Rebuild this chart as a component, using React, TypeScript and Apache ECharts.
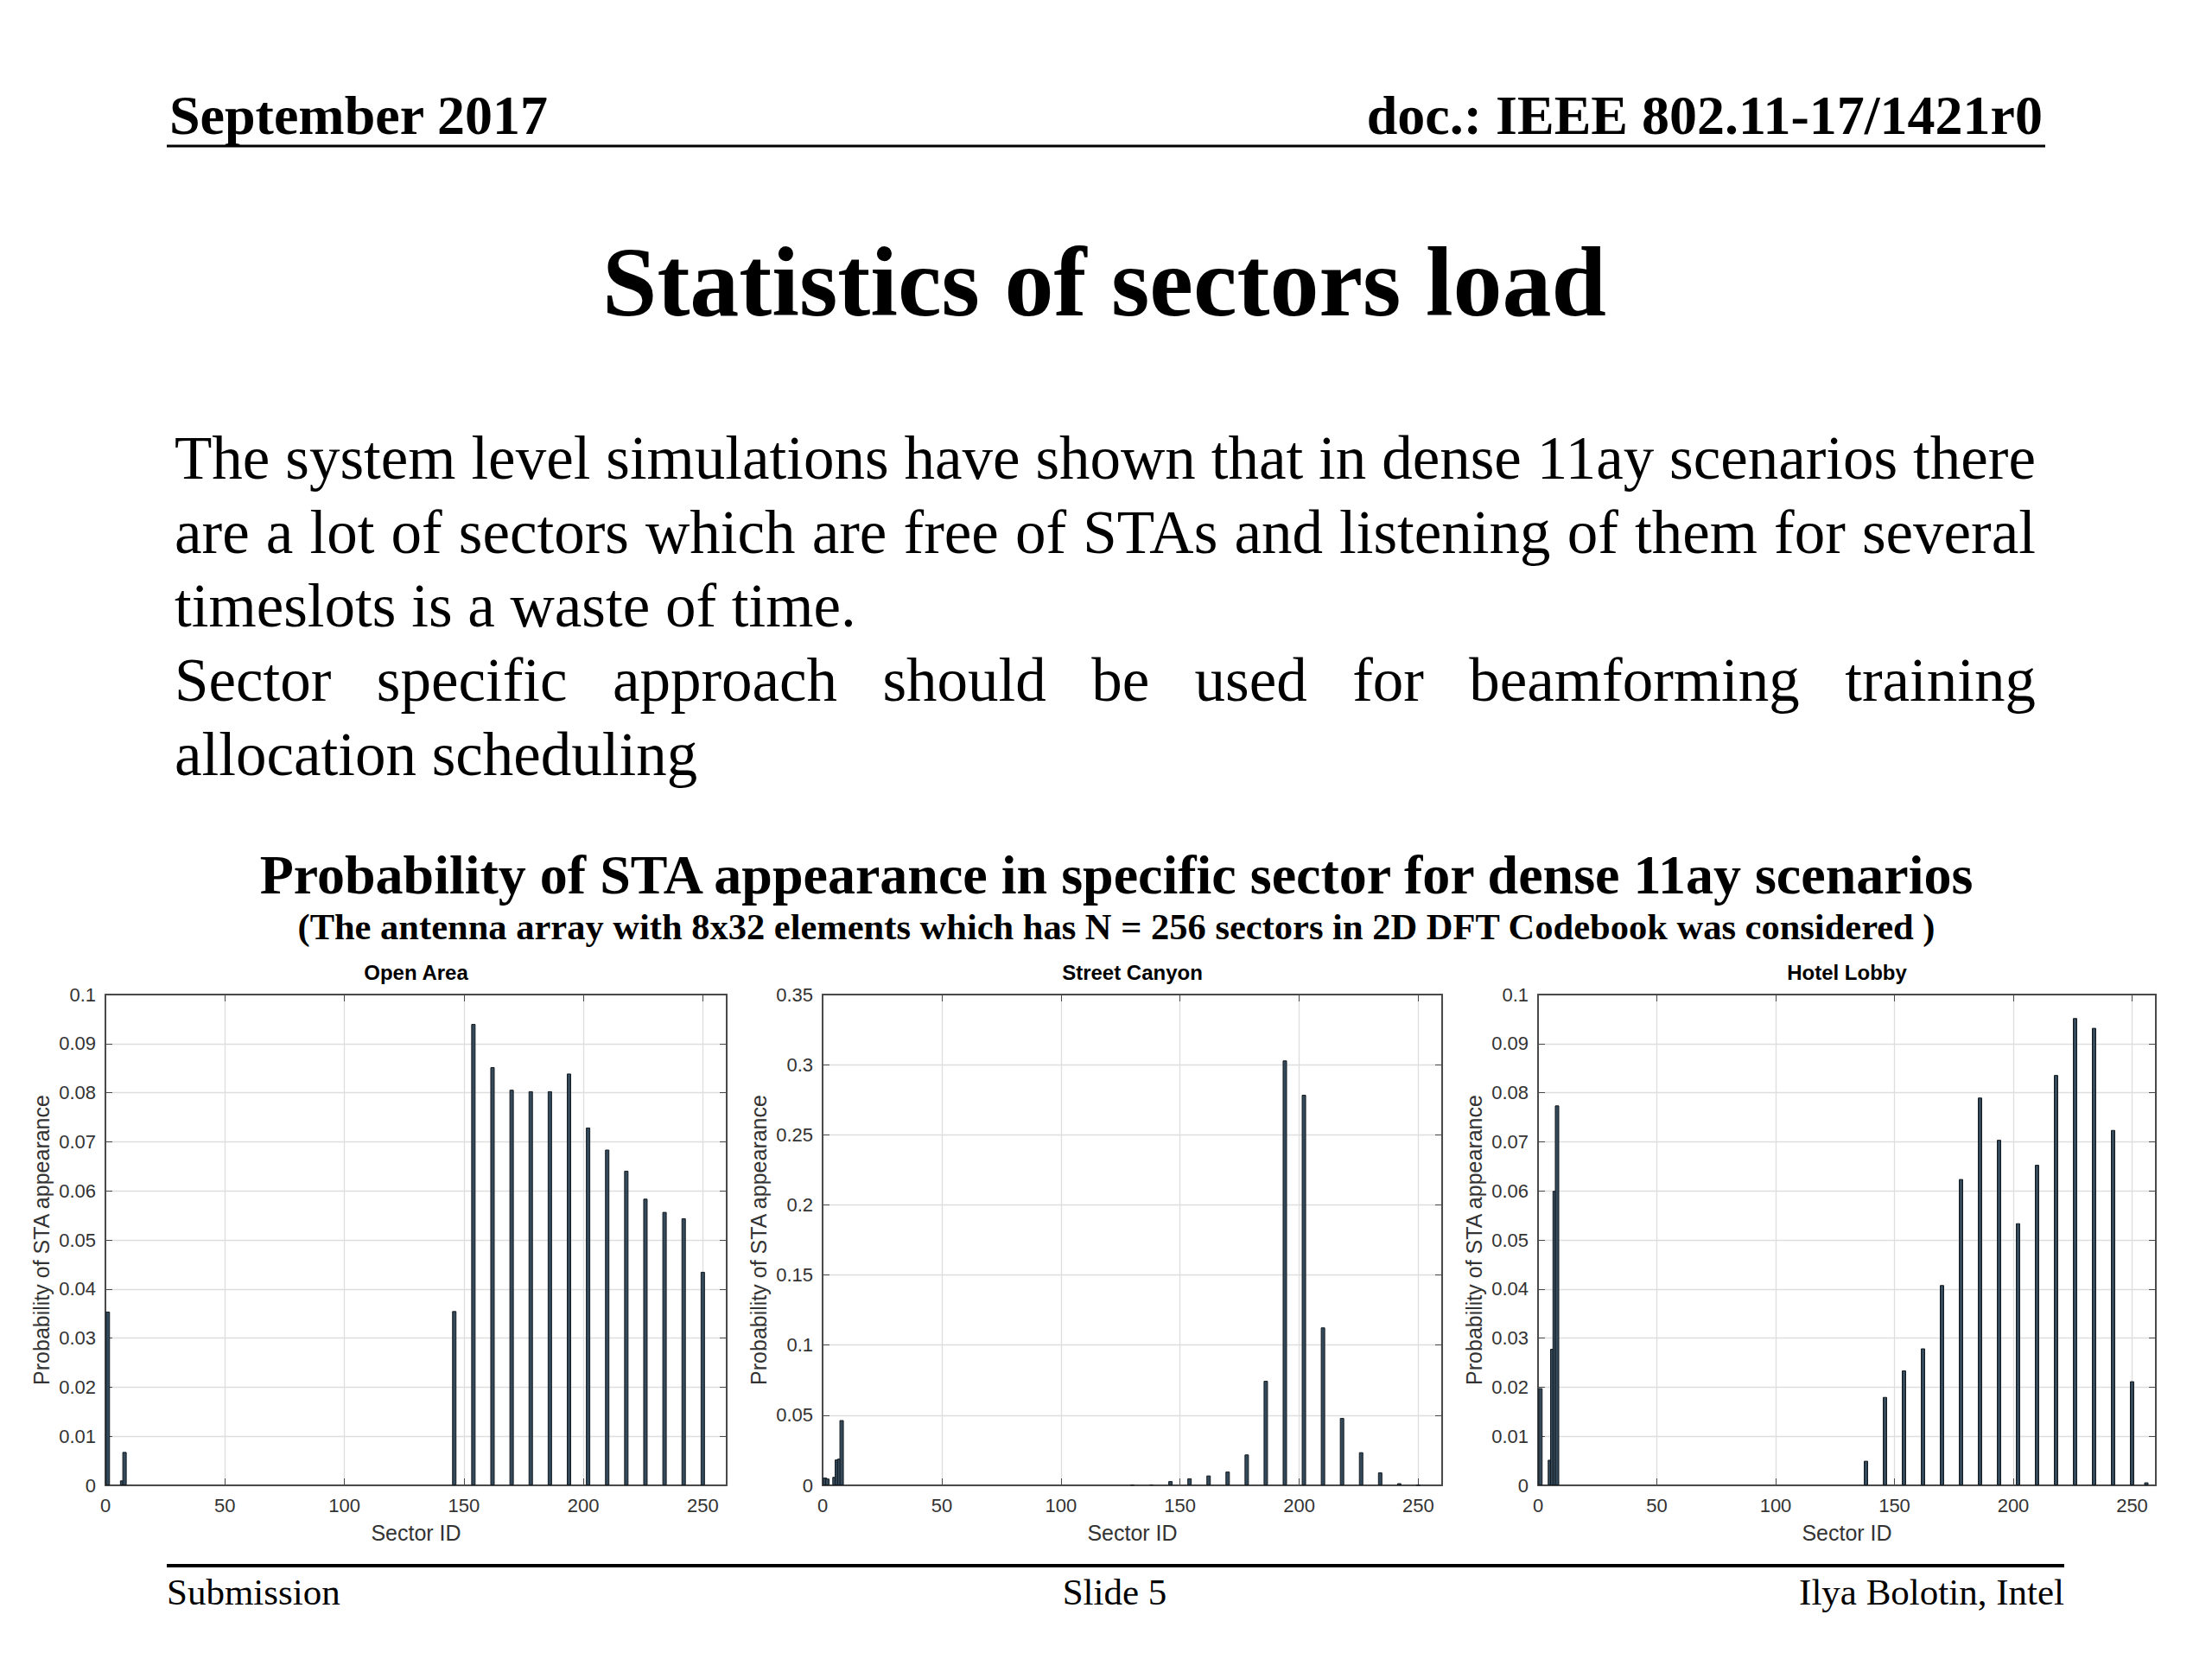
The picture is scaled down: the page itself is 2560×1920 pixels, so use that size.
import React, { useEffect, useRef } from "react";
import * as echarts from "echarts";

// ---------- data ----------
const panelTitles = ["Open Area", "Street Canyon", "Hotel Lobby"];
const xAxisName = "Sector ID";
const yAxisName = "Probability of STA appearance";
const sectorMin = 0;
const sectorMax = 260;
const sectorTickStep = 50;
const yMaxes = [0.1, 0.35, 0.1];
const yIntervals = [0.01, 0.05, 0.01];

const openAreaSectors = [1, 7, 8, 146, 154, 162, 170, 178, 186, 194, 202, 210, 218, 226, 234, 242, 250];
const openAreaProb = [0.0354, 0.001, 0.0068, 0.0355, 0.094, 0.0852, 0.0806, 0.0803, 0.0803, 0.0839, 0.0729, 0.0684, 0.0641, 0.0584, 0.0557, 0.0544, 0.0435];

const streetCanyonSectors = [1, 2, 5, 6, 7, 8, 130, 138, 146, 154, 162, 170, 178, 186, 194, 202, 210, 218, 226, 234, 242, 250];
const streetCanyonProb = [0.0055, 0.0048, 0.006, 0.0184, 0.019, 0.0465, 0.0004, 0.0006, 0.003, 0.005, 0.007, 0.0098, 0.022, 0.0745, 0.303, 0.2785, 0.1126, 0.048, 0.0236, 0.0092, 0.0015, 0.0003];

const hotelLobbySectors = [1, 5, 6, 7, 8, 138, 146, 154, 162, 170, 178, 186, 194, 202, 210, 218, 226, 234, 242, 250, 256];
const hotelLobbyProb = [0.0198, 0.0052, 0.0278, 0.06, 0.0774, 0.005, 0.018, 0.0234, 0.0279, 0.0408, 0.0624, 0.079, 0.0704, 0.0534, 0.0653, 0.0836, 0.0952, 0.0932, 0.0724, 0.0212, 0.0006];

const headerLeft = "September 2017";
const headerRight = "doc.: IEEE 802.11-17/1421r0";
const slideTitle = "Statistics of sectors load";
const bodyLines = [
  "The system level simulations have shown that in dense 11ay scenarios there",
  "are a lot of sectors which are free of STAs and listening of them for several",
  "timeslots is a waste of time.",
  "Sector specific approach should be used for beamforming training",
  "allocation scheduling",
];
const bodyJustified = [true, true, false, true, false];
const chartTitle = "Probability of STA appearance in specific sector for dense 11ay scenarios";
const chartSubtitle = "(The antenna array with 8x32 elements which has N = 256 sectors in 2D DFT Codebook was considered )";
const footerLeft = "Submission";
const footerCenter = "Slide 5";
const footerRight = "Ilya Bolotin, Intel";

// ---------- layout / style ----------
const SERIF = '"Liberation Serif", "Times New Roman", serif';
const SANS = '"Liberation Sans", Arial, sans-serif';
const grids = [
  { left: 122, top: 1151, width: 719, height: 568 },
  { left: 952, top: 1151, width: 717, height: 568 },
  { left: 1780, top: 1151, width: 715, height: 568 },
];

function measure(text: string, font: string): number {
  const c = document.createElement("canvas").getContext("2d")!;
  c.font = font;
  return c.measureText(text).width;
}

function txt(text: string, x: number, y: number, size: number, weight: string, family: string, align: string) {
  return {
    type: "text",
    x,
    y,
    silent: true,
    style: {
      text,
      fontSize: size,
      fontWeight: weight,
      fontFamily: family,
      fill: "#000",
      align,
      textAlign: align,
      verticalAlign: "middle",
      textVerticalAlign: "middle",
    },
  };
}

export default function App() {
  const ref = useRef<HTMLDivElement>(null);

  useEffect(() => {
    document.body.style.margin = "0";
    const chart = echarts.init(ref.current!, null, { renderer: "svg" });

    const seriesData = [
      openAreaSectors.map((s, i) => [s, openAreaProb[i]]),
      streetCanyonSectors.map((s, i) => [s, streetCanyonProb[i]]),
      hotelLobbySectors.map((s, i) => [s, hotelLobbyProb[i]]),
    ];

    const axisColor = "#4a4a4a";
    const tickFont = 22;
    const nameFont = 25;
    const xAxes: any[] = [];
    const yAxes: any[] = [];
    grids.forEach((_, i) => {
      xAxes.push({
        type: "value",
        gridIndex: i,
        min: sectorMin,
        max: sectorMax,
        interval: sectorTickStep,
        position: "bottom",
        name: xAxisName,
        nameLocation: "middle",
        nameGap: 42,
        nameTextStyle: { fontFamily: SANS, fontSize: nameFont, color: "#333" },
        axisLine: { show: true, onZero: false, lineStyle: { color: axisColor, width: 2 } },
        axisTick: { show: true, inside: true, length: 8, lineStyle: { color: axisColor } },
        axisLabel: { margin: 12, fontSize: tickFont, fontFamily: SANS, color: "#333", showMaxLabel: false },
        splitLine: { show: true, lineStyle: { color: "#dedede", width: 1.3 } },
      });
      xAxes.push({
        type: "value",
        gridIndex: i,
        min: sectorMin,
        max: sectorMax,
        interval: sectorTickStep,
        position: "top",
        axisLine: { show: true, onZero: false, lineStyle: { color: axisColor, width: 2 } },
        axisTick: { show: true, inside: true, length: 8, lineStyle: { color: axisColor } },
        axisLabel: { show: false },
        splitLine: { show: false },
      });
      yAxes.push({
        type: "value",
        gridIndex: i,
        min: 0,
        max: yMaxes[i],
        interval: yIntervals[i],
        position: "left",
        name: yAxisName,
        nameLocation: "middle",
        nameGap: 62,
        nameTextStyle: { fontFamily: SANS, fontSize: nameFont, color: "#333" },
        axisLine: { show: true, onZero: false, lineStyle: { color: axisColor, width: 2 } },
        axisTick: { show: true, inside: true, length: 8, lineStyle: { color: axisColor } },
        axisLabel: {
          margin: 11,
          fontSize: tickFont,
          fontFamily: SANS,
          color: "#333",
          formatter: (v: number) => String(+v.toFixed(3)),
        },
        splitLine: { show: true, lineStyle: { color: "#dedede", width: 1.3 } },
      });
      yAxes.push({
        type: "value",
        gridIndex: i,
        min: 0,
        max: yMaxes[i],
        interval: yIntervals[i],
        position: "right",
        axisLine: { show: true, onZero: false, lineStyle: { color: axisColor, width: 2 } },
        axisTick: { show: true, inside: true, length: 8, lineStyle: { color: axisColor } },
        axisLabel: { show: false },
        splitLine: { show: false },
      });
    });

    const series = seriesData.map((data, i) => ({
      type: "bar",
      xAxisIndex: i * 2,
      yAxisIndex: i * 2,
      data,
      barWidth: 5,
      itemStyle: { color: "#34495a", borderColor: "#121a20", borderWidth: 1 },
      silent: true,
    }));

    const titles = grids.map((g, i) => ({
      text: panelTitles[i],
      left: g.left + g.width / 2,
      top: 1113,
      textAlign: "center",
      padding: 0,
      textStyle: { fontFamily: SANS, fontSize: 24, fontWeight: "bold", color: "#000" },
    }));

    // slide graphics
    const elements: any[] = [];
    elements.push(txt(headerLeft, 196, 133, 64, "bold", SERIF, "left"));
    elements.push(txt(headerRight, 2364, 133, 64, "bold", SERIF, "right"));
    elements.push({ type: "line", silent: true, shape: { x1: 193, y1: 169, x2: 2367, y2: 169 }, style: { stroke: "#000", lineWidth: 3 } });
    elements.push(txt(slideTitle, 1278, 326, 114, "bold", SERIF, "center"));

    const bodyLeft = 202;
    const bodyRight = 2356;
    const bodySize = 71;
    const bodyFont = `normal ${bodySize}px ${SERIF}`;
    const bodyTop = 530;
    const bodyStep = 85.7;
    bodyLines.forEach((line, li) => {
      const y = bodyTop + li * bodyStep;
      if (!bodyJustified[li]) {
        elements.push(txt(line, bodyLeft, y, bodySize, "normal", SERIF, "left"));
        return;
      }
      const words = line.split(" ");
      const widths = words.map((w) => measure(w, bodyFont));
      const total = widths.reduce((a, b) => a + b, 0);
      const gap = (bodyRight - bodyLeft - total) / (words.length - 1);
      let x = bodyLeft;
      words.forEach((w, wi) => {
        elements.push(txt(w, x, y, bodySize, "normal", SERIF, "left"));
        x += widths[wi] + gap;
      });
    });

    elements.push(txt(chartTitle, 1292, 1012, 64, "bold", SERIF, "center"));
    elements.push(txt(chartSubtitle, 1292, 1072, 42.5, "bold", SERIF, "center"));

    elements.push({ type: "line", silent: true, shape: { x1: 193, y1: 1812, x2: 2389, y2: 1812 }, style: { stroke: "#000", lineWidth: 4 } });
    elements.push(txt(footerLeft, 193, 1842, 43, "normal", SERIF, "left"));
    elements.push(txt(footerCenter, 1290, 1842, 43, "normal", SERIF, "center"));
    elements.push(txt(footerRight, 2389, 1842, 43, "normal", SERIF, "right"));

    chart.setOption({
      animation: false,
      backgroundColor: "#fff",
      title: titles,
      grid: grids.map((g) => ({ ...g, containLabel: false })),
      xAxis: xAxes,
      yAxis: yAxes,
      series,
      graphic: { elements },
    });

    return () => chart.dispose();
  }, []);

  return <div ref={ref} style={{ width: 2560, height: 1920, background: "#fff" }} />;
}
